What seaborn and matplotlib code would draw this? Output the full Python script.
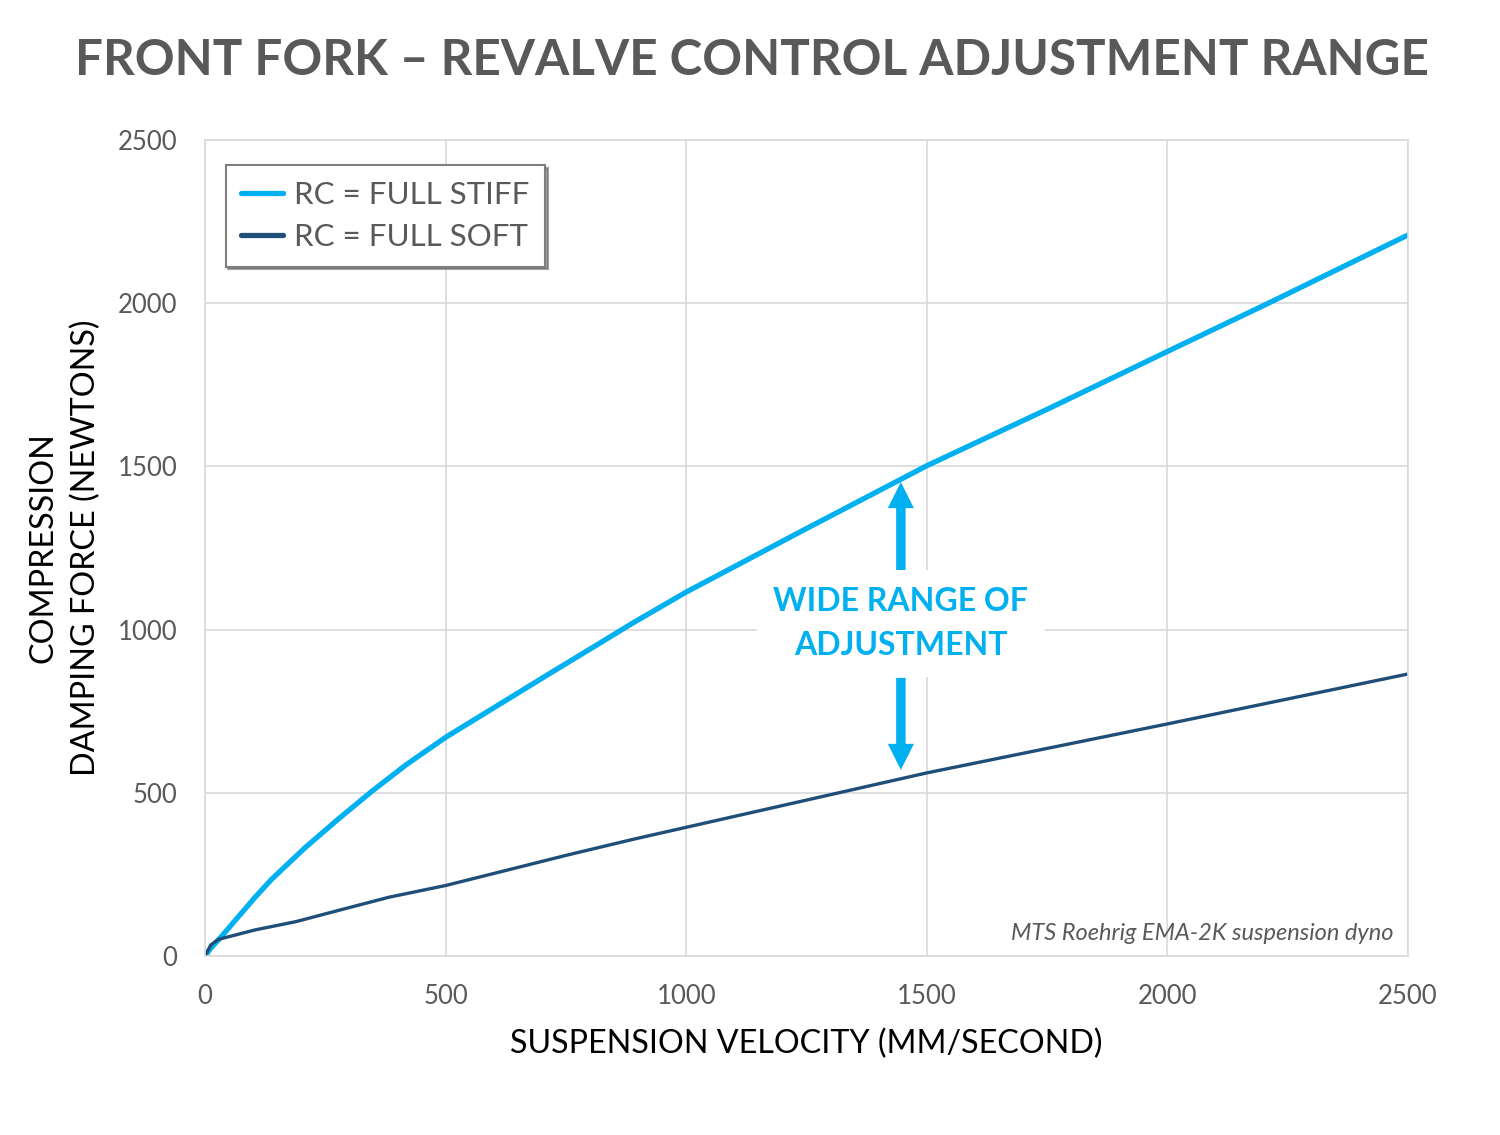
import pandas as pd
import matplotlib
import matplotlib.pyplot as plt
import seaborn as sns
from matplotlib.lines import Line2D

matplotlib.use("Agg")
sns.set_theme(style="whitegrid")
plt.rcParams["font.family"] = ["Lato", "DejaVu Sans"]

# Dados
velocidade_stiff = [0, 12, 33, 69, 104, 139, 208, 278, 347, 417, 500, 614,
                    718, 822, 891, 1000, 1244, 1500, 1756, 2000, 2210, 2500]
forca_stiff = [0, 24, 58, 120, 180, 236, 332, 421, 505, 585, 670, 773,
               867, 960, 1022, 1115, 1305, 1502, 1679, 1852, 2000, 2209]

velocidade_soft = [0, 12, 28, 104, 188, 278, 382, 500, 614, 752, 891, 1029,
                   1500, 2000, 2500]
forca_soft = [0, 34, 51, 80, 105, 140, 180, 216, 258, 309, 358, 404,
              561, 711, 864]

SERIE_STIFF = "RC = FULL STIFF"
SERIE_SOFT = "RC = FULL SOFT"

ticks = [0, 500, 1000, 1500, 2000, 2500]

df = pd.concat([
    pd.DataFrame({"vel": velocidade_stiff, "forca": forca_stiff, "serie": SERIE_STIFF}),
    pd.DataFrame({"vel": velocidade_soft, "forca": forca_soft, "serie": SERIE_SOFT}),
])

CINZA = "#595959"
AZUL_CLARO = "#00B0F0"
AZUL_ESCURO = "#1F4E79"

fig = plt.figure(figsize=(15, 11.35), dpi=100)
ax = fig.add_axes([0.1367, 0.1577, 0.802, 0.719])

sns.lineplot(data=df, x="vel", y="forca", hue="serie", ax=ax,
             palette={SERIE_STIFF: AZUL_CLARO, SERIE_SOFT: AZUL_ESCURO},
             legend=False, sort=False, estimator=None)
ax.lines[0].set_linewidth(3.8)
ax.lines[1].set_linewidth(2.4)
for ln in ax.lines:
    ln.set_solid_joinstyle("round")

ax.set_xlim(0, 2500)
ax.set_ylim(0, 2500)
ax.set_xticks(ticks)
ax.set_yticks(ticks)
ax.grid(True, color="#d9d9d9", linewidth=1.2)
for s in ax.spines.values():
    s.set_color("#d9d9d9")
    s.set_linewidth(1.2)
ax.tick_params(axis="both", colors=CINZA, labelsize=18.5, length=0)
ax.tick_params(axis="x", pad=20)
ax.tick_params(axis="y", pad=20)

ax.set_xlabel("SUSPENSION VELOCITY (MM/SECOND)", fontsize=23.2, color="black", labelpad=14)
ax.set_ylabel("COMPRESSION\nDAMPING FORCE (NEWTONS)", fontsize=23.3, color="black",
              labelpad=12, linespacing=1.5)

fig.text(0.501, 0.947, "FRONT FORK \u2013 REVALVE CONTROL ADJUSTMENT RANGE",
         ha="center", va="center", fontsize=35.6, fontweight="bold", color=CINZA)

# Legenda
handles = [Line2D([], [], color=AZUL_CLARO, lw=3.8), Line2D([], [], color=AZUL_ESCURO, lw=3.8)]
leg = ax.legend(handles, [SERIE_STIFF, SERIE_SOFT], loc="upper left",
                bbox_to_anchor=(0.017, 0.969), fontsize=22.5, frameon=True,
                fancybox=False, shadow=True, handlelength=1.35, handletextpad=0.35,
                borderpad=0.5, labelspacing=0.45, borderaxespad=0)
leg.get_frame().set_edgecolor("#7f7f7f")
leg.get_frame().set_linewidth(1.5)
for t in leg.get_texts():
    t.set_color(CINZA)

# Anotação
estilo_seta = dict(arrowstyle="simple,head_length=0.94,tail_width=0.34,head_width=0.94",
                   color=AZUL_CLARO, lw=0, mutation_scale=20, shrinkA=0, shrinkB=0)
ax.annotate("", xy=(1446, 1452), xytext=(1446, 1180), arrowprops=estilo_seta)
ax.annotate("", xy=(1446, 570), xytext=(1446, 852), arrowprops=estilo_seta)
ax.text(1446, 1019, "WIDE RANGE OF\nADJUSTMENT", ha="center", va="center",
        fontsize=23, fontweight="bold", color=AZUL_CLARO, linespacing=1.65,
        bbox=dict(facecolor="white", edgecolor="none", pad=12))

ax.text(2470, 70, "MTS Roehrig EMA-2K suspension dyno", ha="right", va="center",
        fontsize=17, style="italic", color=CINZA)

plt.savefig("out.png", dpi=100)
plt.close()
